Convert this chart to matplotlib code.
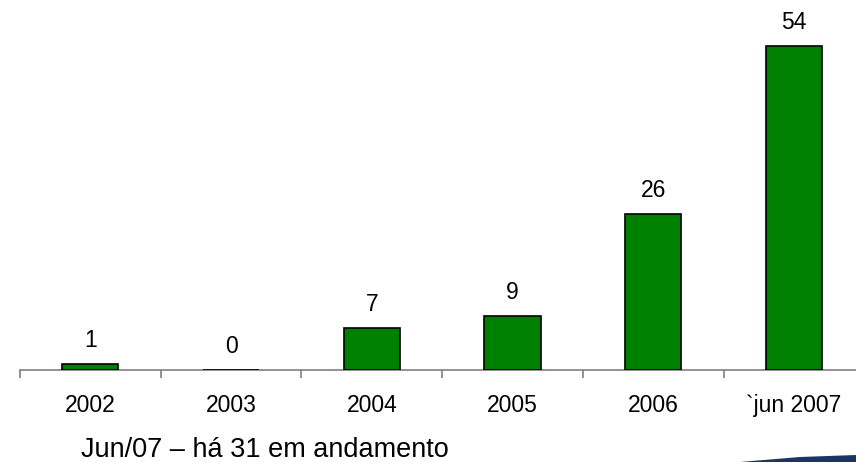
import matplotlib.pyplot as plt
from matplotlib.patches import Polygon

plt.rcParams['font.family'] = ['Liberation Sans', 'DejaVu Sans']

categories = ["2002", "2003", "2004", "2005", "2006", "`jun 2007"]
values = [1, 0, 7, 9, 26, 54]
note = "Jun/07 – há 31 em andamento"


def main():
    fig = plt.figure(figsize=(8.56, 4.62), dpi=100)
    ax = fig.add_axes([20 / 856, 92 / 462, 836 / 856, 370 / 462])

    x = list(range(len(categories)))
    ax.bar(x, values, width=0.40, color="#008000", edgecolor="black",
           linewidth=1.2, zorder=3)

    for xi, v in zip(x, values):
        ax.annotate(str(v), (xi, v), xytext=(0, 12.5), textcoords="offset points",
                    ha="center", va="baseline", fontsize=16.5)

    for s in ["top", "right", "left"]:
        ax.spines[s].set_visible(False)
    ax.spines["bottom"].set_color("#808080")
    ax.spines["bottom"].set_linewidth(1.2)
    ax.set_yticks([])

    ax.set_xticks([i - 0.5 for i in range(len(categories) + 1)])
    ax.set_xticklabels([])
    ax.tick_params(axis="x", direction="out", length=6, width=1.2, color="#808080")
    ax.set_xticks(x, minor=True)
    ax.set_xticklabels(categories, minor=True, fontsize=16.5)
    ax.tick_params(axis="x", which="minor", length=0, pad=17)

    # set limits after the ticks, which would otherwise widen the view
    ax.set_xlim(-0.5, -0.5 + 836 / 140.7)
    ax.set_ylim(0, 370 / 6)

    fig.text(81 / 856, 1 - 457 / 462, note, fontsize=19.5, ha="left", va="baseline")

    # decorative swoosh at the bottom right corner
    swoosh = Polygon([(740 / 856, 0), (800 / 856, 5 / 462), (856 / 856, 7 / 462),
                      (1, 0)], closed=True, transform=fig.transFigure,
                     facecolor="#1c3461", edgecolor="none")
    fig.patches.append(swoosh)

    fig.savefig("out.png", dpi=100)


if __name__ == "__main__":
    main()
